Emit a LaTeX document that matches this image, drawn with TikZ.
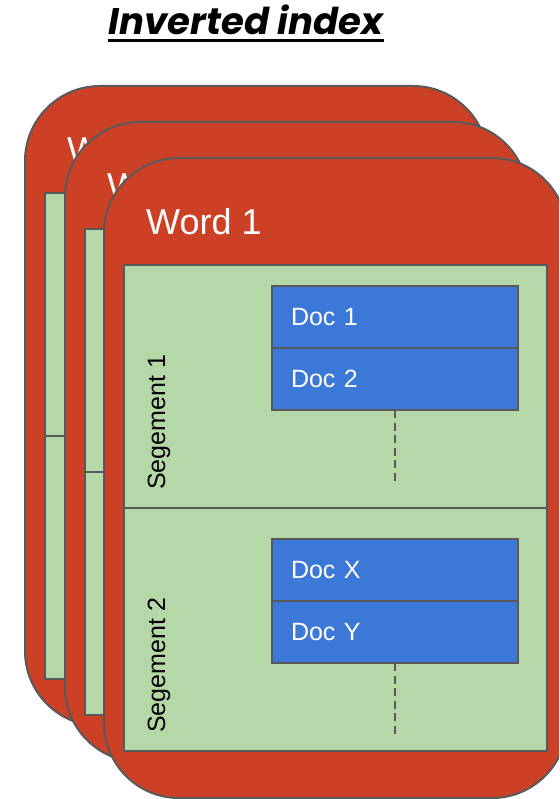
\documentclass[tikz,border=0pt]{standalone}
\usepackage{fontspec}
\setmainfont{Liberation Sans}
\newfontfamily\titlefont{Poppins}
\usetikzlibrary{positioning}
\definecolor{cardred}{RGB}{204, 65, 37}
\definecolor{segmentgreen}{RGB}{182, 215, 168}
\definecolor{docblue}{RGB}{60, 120, 216}
\definecolor{bordergray}{RGB}{89, 89, 89}

\begin{document}
\begin{tikzpicture}[
    x=1pt, y=-1pt,
    card/.style={draw=bordergray, line width=2pt, fill=cardred, rounded corners=75pt,
                 minimum width=463pt, minimum height=640pt, inner sep=0pt, outer sep=0pt,
                 anchor=north west},
    wordlabel/.style={text=white, font=\fontsize{36}{40}\selectfont, inner sep=0pt,
                      anchor=base west},
    segbox/.style={draw=bordergray, line width=2pt, fill=segmentgreen, minimum width=423pt,
                   minimum height=243pt, inner sep=0pt, outer sep=0pt},
    seglabel/.style={rotate=90, anchor=base west, inner sep=0pt,
                     font=\fontsize{25}{30}\selectfont},
    docbox/.style={draw=bordergray, line width=2pt, fill=docblue, text=white,
                   minimum height=62pt, text width=208pt, inner xsep=19pt, inner ysep=0pt,
                   outer sep=0pt, align=left, font=\fontsize{25}{30}\selectfont},
    continued/.style={draw=bordergray, line width=1.5pt, dash pattern=on 8pt off 4.5pt}
]
    \useasboundingbox (0,0) rectangle (559,799);
    \clip (0,0) rectangle (559,799);

    \node[font=\titlefont\bfseries\itshape\fontsize{37}{42}\selectfont, anchor=base,
          inner sep=0pt] (title) at (246,35) {Inverted index};
    \draw[line width=3pt] ([yshift=-6pt]title.base west) -- ([yshift=-6pt]title.base east);

    % back card
    \node[card] (card3) at (25,86) {};
    \node[wordlabel] at ([xshift=42pt, yshift=-77pt]card3.north west) {Word 3};
    \node[segbox, anchor=north west] (seg31) at ([xshift=20pt, yshift=-107pt]card3.north west) {};
    \node[segbox, below=0pt of seg31] (seg32) {};

    % middle card
    \node[card] (card2) at (65,122) {};
    \node[wordlabel] at ([xshift=42pt, yshift=-77pt]card2.north west) {Word 2};
    \node[segbox, anchor=north west] (seg21) at ([xshift=20pt, yshift=-107pt]card2.north west) {};
    \node[segbox, below=0pt of seg21] (seg22) {};

    % front card
    \node[card] (card1) at (104,158) {};
    \node[wordlabel] at ([xshift=42pt, yshift=-77pt]card1.north west) {Word 1};
    \node[segbox, anchor=north west] (seg1) at ([xshift=20pt, yshift=-107pt]card1.north west) {};
    \node[segbox, below=0pt of seg1] (seg2) {};
    \node[seglabel] at ([xshift=41pt, yshift=18pt]seg1.south west) {Segement 1};
    \node[seglabel] at ([xshift=41pt, yshift=18pt]seg2.south west) {Segement 2};

    \node[docbox, anchor=north west] (doc1) at ([xshift=148pt, yshift=-21pt]seg1.north west) {Doc 1};
    \node[docbox, below=0pt of doc1] (doc2) {Doc 2};
    \node[docbox, anchor=north west] (docx) at ([xshift=148pt, yshift=-31pt]seg2.north west) {Doc X};
    \node[docbox, below=0pt of docx] (docy) {Doc Y};

    \coordinate (end1) at ([yshift=-71pt]doc2.south);
    \coordinate (end2) at ([yshift=-71pt]docy.south);
    \draw[continued] (doc2.south) -- (end1);
    \draw[continued] (docy.south) -- (end2);
\end{tikzpicture}
\end{document}
